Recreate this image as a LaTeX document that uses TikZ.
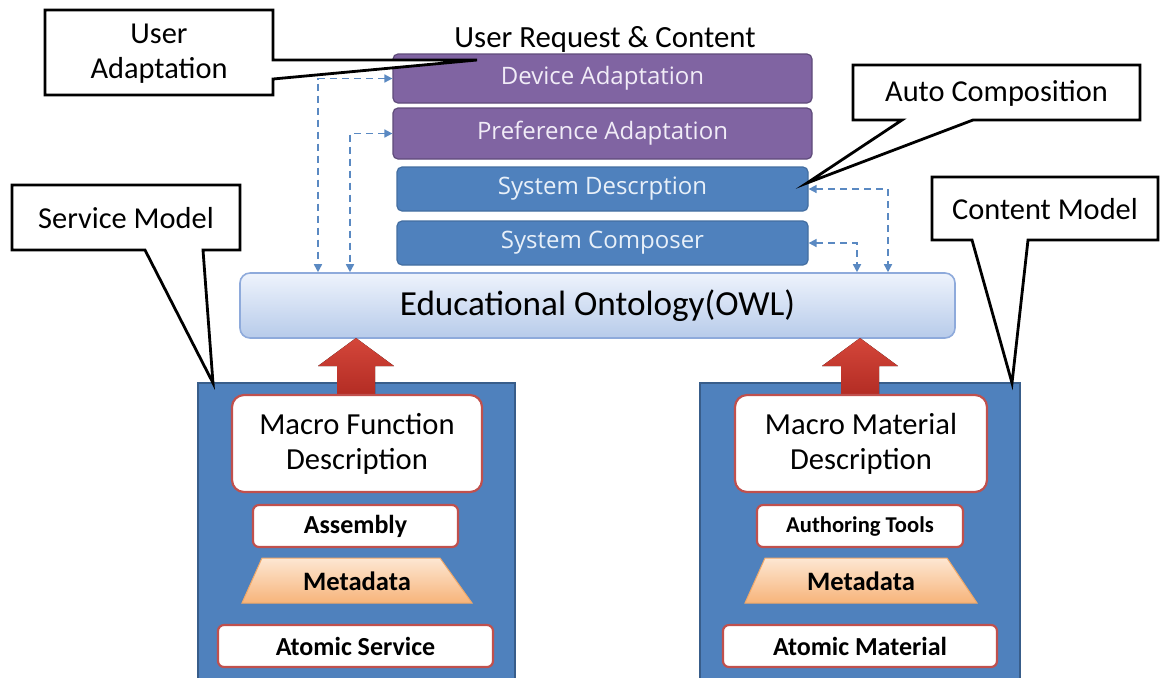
\documentclass[tikz,border=0pt]{standalone}
\usepackage{fontspec}
\setmainfont{Carlito}
\newfontfamily\boxfont{Open Sans}
\usetikzlibrary{arrows.meta}

\definecolor{purp}{HTML}{8064A2}
\definecolor{purpdark}{HTML}{5F4B7A}
\definecolor{sysblue}{HTML}{4F81BD}
\definecolor{blueline}{HTML}{385D8A}
\definecolor{ontotop}{HTML}{EEF3FC}
\definecolor{ontobot}{HTML}{B7CBEA}
\definecolor{ontoline}{HTML}{8EAADB}
\definecolor{redbox}{HTML}{C0504D}
\definecolor{arrtop}{HTML}{D4463A}
\definecolor{arrbot}{HTML}{B02A22}
\definecolor{peachtop}{HTML}{FDE7D3}
\definecolor{peachbot}{HTML}{F7B47A}
\definecolor{peachline}{HTML}{F0A868}
\definecolor{dashblue}{HTML}{5A89C2}
\definecolor{lavtext}{HTML}{F1ECF7}
\definecolor{paletext}{HTML}{E8F0F9}

\tikzset{
  layer/.style={rounded corners=2.5pt, inner sep=0pt, line width=0.6pt,
    font=\boxfont\fontsize{12}{14}\selectfont},
  purplelayer/.style={layer, fill=purp, draw=purpdark, text=lavtext,
    minimum width=209.5pt},
  bluelayer/.style={layer, fill=sysblue, draw=sysblue!85!black, text=paletext,
    minimum width=205.5pt, minimum height=22pt},
  callout/.style={draw=black, line width=1.4pt, fill=white, line join=miter},
  callouttext/.style={font=\fontsize{15.2}{17.5}\selectfont, align=center, inner sep=0pt},
  dasharrow/.style={draw=dashblue, line width=0.8pt, dash pattern=on 3.5pt off 2.5pt,
    {Triangle[length=4pt,width=4pt]}-{Triangle[length=4pt,width=4pt]}},
  modelbox/.style={fill=sysblue, draw=blueline, line width=1pt, inner sep=0pt,
    minimum height=158.5pt},
  macrobox/.style={draw=redbox, line width=1.1pt, fill=white, rounded corners=6pt,
    inner sep=0pt, minimum height=48.5pt, align=center,
    font=\fontsize{15.3}{17.5}\selectfont},
  smallbox/.style={draw=redbox, line width=1.1pt, fill=white, rounded corners=3pt,
    inner sep=0pt, minimum height=21pt, font=\bfseries\fontsize{13}{15}\selectfont},
  metashape/.style={draw=peachline, line width=0.5pt, top color=peachtop, bottom color=peachbot},
  metatext/.style={inner sep=0pt, font=\bfseries\fontsize{13.3}{15}\selectfont},
  redarrow/.style={top color=arrtop, bottom color=arrbot, draw=none}
}

\begin{document}
\begin{tikzpicture}[x=0.5pt, y=-0.5pt]
\useasboundingbox (0,0) rectangle (1160,677);
\clip (0,0) rectangle (1160,677);
\fill[white] (0,0) rectangle (1160,677);

% title and the four stacked layers
\node[font=\fontsize{15.4}{17}\selectfont, inner sep=0pt] (title) at (605,39) {User Request \& Content};
\node[purplelayer, minimum height=24.5pt] (dev)  at (602.5,78.5)  {Device Adaptation};
\node[purplelayer, minimum height=25.5pt] (pref) at (602.5,133.5) {Preference Adaptation};
\node[bluelayer] (sysd) at (602.5,189) {System Descrption};
\node[bluelayer] (sysc) at (602.5,243) {System Composer};

% ontology bar
\node[draw=ontoline, line width=0.8pt, top color=ontotop, bottom color=ontobot,
      rounded corners=5pt, minimum width=357.5pt, minimum height=32.5pt, inner sep=0pt,
      font=\fontsize{17.6}{20}\selectfont] (onto) at (597.5,305.5) {Educational Ontology(OWL)};

% dashed links between the layers and the ontology
\coordinate (xl1) at (318,0);
\coordinate (xl2) at (350,0);
\coordinate (xr1) at (888,0);
\coordinate (xr2) at (857,0);
\draw[dasharrow] (dev.west)  -| (xl1 |- onto.north);
\draw[dasharrow] (pref.west) -| (xl2 |- onto.north);
\draw[dasharrow] (sysd.east) -| (xr1 |- onto.north);
\draw[dasharrow] (sysc.east) -| (xr2 |- onto.north);

% service and content model panels
\node[modelbox, minimum width=158.5pt] (lbox) at (356.5,541.5) {};
\node[modelbox, minimum width=160pt]   (rbox) at (860,541.5) {};

% upward arrows into the ontology
\coordinate (tipL) at (356,338);
\coordinate (tipR) at (860,338);
\fill[redarrow] (tipL) -- ++(38,28) -- ++(-19,0) -- ++(0,34) -- ++(-38,0) -- ++(0,-34) -- ++(-19,0) -- cycle;
\fill[redarrow] (tipR) -- ++(38,28) -- ++(-19,0) -- ++(0,34) -- ++(-38,0) -- ++(0,-34) -- ++(-19,0) -- cycle;

% left panel contents
\node[macrobox, minimum width=125pt] (mfd) at (357,443.5) {Macro Function\\Description};
\node[smallbox, minimum width=102.5pt] (asm) at (355.5,526) {Assembly};
\path[metashape] (262,558) -- (440,558) -- (472,603) -- (242,603) -- cycle;
\node[metatext] (meta1) at (357,581) {Metadata};
\node[smallbox, minimum width=137.5pt] (ats) at (355.5,646) {Atomic Service};

% right panel contents
\node[macrobox, minimum width=126pt] (mmd) at (861,443.5) {Macro Material\\Description};
\node[smallbox, minimum width=103pt, font=\bfseries\fontsize{11.3}{13}\selectfont] (aut) at (860,526) {Authoring Tools};
\path[metashape] (765,558) -- (947,558) -- (977,603) -- (745,603) -- cycle;
\node[metatext] (meta2) at (861,581) {Metadata};
\node[smallbox, minimum width=137pt] (atm) at (860,646) {Atomic Material};

% callouts
\path[callout] (45,10) -- (273,10) -- (273,60) -- (477,60) -- (273,79) -- (273,95) -- (45,95) -- cycle;
\node[callouttext] (ua) at (159,54) {User\\Adaptation};

\path[callout] (853,65) -- (1140,65) -- (1140,120) -- (973,120) -- (807,183) -- (902,120) -- (853,120) -- cycle;
\node[callouttext] (ac) at (996.5,93) {Auto Composition};

\path[callout] (932,177) -- (1158,177) -- (1158,240) -- (1028,240) -- (1012,383) -- (972,240) -- (932,240) -- cycle;
\node[callouttext] (cm) at (1045,209) {Content Model};

\path[callout] (12,185) -- (240,185) -- (240,250) -- (203,250) -- (213,383) -- (145,250) -- (12,250) -- cycle;
\node[callouttext] (sm) at (126,218) {Service Model};
\end{tikzpicture}
\end{document}
